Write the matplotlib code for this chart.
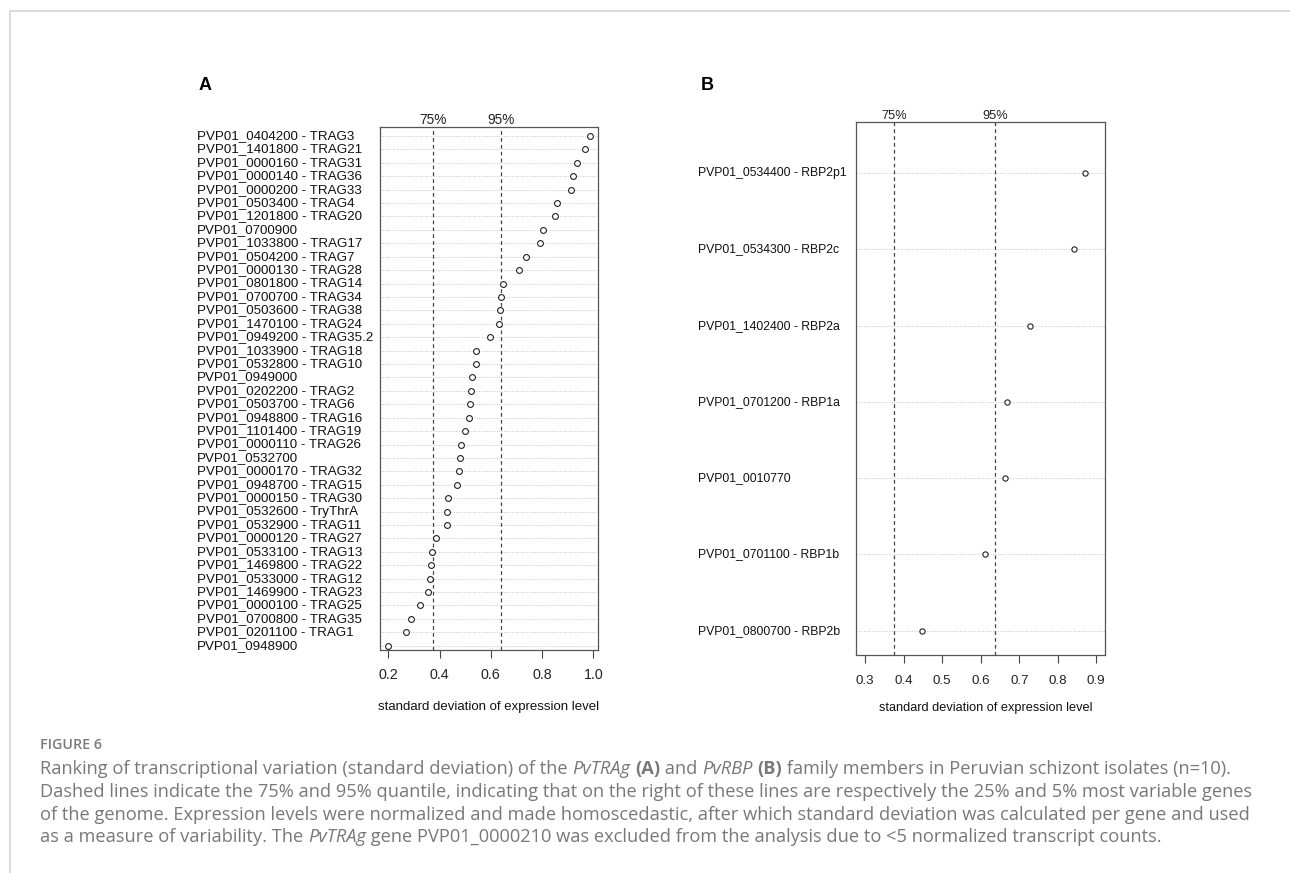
import matplotlib
matplotlib.use("Agg")
import matplotlib.pyplot as plt
from matplotlib import transforms
from matplotlib.lines import Line2D

W, H = 1290, 873

trag_labels = [
    "PVP01_0404200 - TRAG3", "PVP01_1401800 - TRAG21", "PVP01_0000160 - TRAG31",
    "PVP01_0000140 - TRAG36", "PVP01_0000200 - TRAG33", "PVP01_0503400 - TRAG4",
    "PVP01_1201800 - TRAG20", "PVP01_0700900", "PVP01_1033800 - TRAG17",
    "PVP01_0504200 - TRAG7", "PVP01_0000130 - TRAG28", "PVP01_0801800 - TRAG14",
    "PVP01_0700700 - TRAG34", "PVP01_0503600 - TRAG38", "PVP01_1470100 - TRAG24",
    "PVP01_0949200 - TRAG35.2", "PVP01_1033900 - TRAG18", "PVP01_0532800 - TRAG10",
    "PVP01_0949000", "PVP01_0202200 - TRAG2", "PVP01_0503700 - TRAG6",
    "PVP01_0948800 - TRAG16", "PVP01_1101400 - TRAG19", "PVP01_0000110 - TRAG26",
    "PVP01_0532700", "PVP01_0000170 - TRAG32", "PVP01_0948700 - TRAG15",
    "PVP01_0000150 - TRAG30", "PVP01_0532600 - TryThrA", "PVP01_0532900 - TRAG11",
    "PVP01_0000120 - TRAG27", "PVP01_0533100 - TRAG13", "PVP01_1469800 - TRAG22",
    "PVP01_0533000 - TRAG12", "PVP01_1469900 - TRAG23", "PVP01_0000100 - TRAG25",
    "PVP01_0700800 - TRAG35", "PVP01_0201100 - TRAG1", "PVP01_0948900",
]
trag_sd = [
    0.987, 0.969, 0.935, 0.919, 0.912, 0.858, 0.852, 0.802, 0.792, 0.737,
    0.709, 0.649, 0.640, 0.637, 0.632, 0.598, 0.541, 0.542, 0.527, 0.523,
    0.519, 0.516, 0.499, 0.484, 0.481, 0.474, 0.469, 0.433, 0.430, 0.428,
    0.385, 0.372, 0.368, 0.364, 0.355, 0.325, 0.288, 0.269, 0.199,
]
rbp_labels = [
    "PVP01_0534400 - RBP2p1", "PVP01_0534300 - RBP2c", "PVP01_1402400 - RBP2a",
    "PVP01_0701200 - RBP1a", "PVP01_0010770", "PVP01_0701100 - RBP1b",
    "PVP01_0800700 - RBP2b",
]
rbp_sd = [0.870, 0.841, 0.727, 0.667, 0.663, 0.612, 0.448]

trag_ticks = [0.2, 0.4, 0.6, 0.8, 1.0]
rbp_ticks = [0.3, 0.4, 0.5, 0.6, 0.7, 0.8, 0.9]
quantiles = [(0.374, "75%"), (0.638, "95%")]

LAB_FONT = "Liberation Sans"

fig = plt.figure(figsize=(W / 100, H / 100), dpi=100)
fig.patch.set_facecolor("white")


def px_axes(left, top, right, bottom):
    return fig.add_axes([left / W, 1 - bottom / H, (right - left) / W, (bottom - top) / H])


def dotchart(ax, labels, values, xlim, ticks, label_x, fs_lab, fs_tick, fs_q, ms, pad):
    n = len(values)
    y = list(range(n, 0, -1))
    for yi in y:
        ax.axhline(yi, color="#c4c4c4", lw=0.7, ls=(0, (1, 1.6)), zorder=1)
    ax.plot(values, y, ls="none", marker="o", mfc="white", mec="#222222",
            ms=ms, mew=0.8, zorder=3)
    for q, name in quantiles:
        ax.axvline(q, color="#444444", lw=0.9, ls=(0, (3, 2.5)), zorder=2)
        ax.text(q, 1.0, name, transform=ax.get_xaxis_transform(), ha="center",
                va="bottom", fontsize=fs_q, family=LAB_FONT, color="#222222")
    ax.set_xlim(xlim)
    ax.set_ylim(0.68, n + 0.67)
    ax.set_yticks([])
    ax.set_xticks(ticks)
    ax.set_xticklabels([f"{t:.1f}" for t in ticks], family=LAB_FONT,
                       fontsize=fs_tick, color="#222222")
    ax.tick_params(axis="x", length=5.5, width=0.8, color="#444444", pad=pad)
    for s in ax.spines.values():
        s.set_color("#555555")
        s.set_linewidth(0.9)
    tr = transforms.blended_transform_factory(fig.transFigure, ax.transData)
    for yi, lab in zip(y, labels):
        ax.text(label_x / W, yi, lab, transform=tr, ha="left", va="center",
                fontsize=fs_lab, family=LAB_FONT, color="#111111", clip_on=False)


ax_a = px_axes(380, 127, 598, 650)
dotchart(ax_a, trag_labels, trag_sd, (0.1675, 1.018), trag_ticks, 197, 9.6, 10.3, 9.8, 4.2, 7.5)

ax_b = px_axes(856, 122, 1105, 655)
dotchart(ax_b, rbp_labels, rbp_sd, (0.2759, 0.9226), rbp_ticks, 698, 8.8, 9.6, 9.2, 3.8, 9)

fig.text(489 / W, 1 - 707 / H, "standard deviation of expression level", ha="center",
         va="center", fontsize=9.5, family=LAB_FONT, color="#111111")
fig.text(986 / W, 1 - 708 / H, "standard deviation of expression level", ha="center",
         va="center", fontsize=9.2, family=LAB_FONT, color="#111111")

fig.text(205 / W, 1 - 86 / H, "A", ha="center", va="center", fontsize=13,
         weight="bold", family=LAB_FONT)
fig.text(707 / W, 1 - 86 / H, "B", ha="center", va="center", fontsize=13,
         weight="bold", family=LAB_FONT)

# page frame
frame = "#d4d4d4"
fig.add_artist(Line2D([9.5 / W, 1], [1 - 11 / H, 1 - 11 / H], color=frame, lw=1.2,
                      transform=fig.transFigure))
fig.add_artist(Line2D([9.5 / W, 9.5 / W], [0, 1 - 11 / H], color=frame, lw=1.2,
                      transform=fig.transFigure))

# caption
CAP_FONT = "Open Sans"
cap_color = "#787878"
fig.text(40 / W, 1 - 745 / H, "FIGURE 6", ha="left", va="center", fontsize=10.3,
         family=CAP_FONT, weight="semibold", color="#7a7a7a")

caption = [
    [("Ranking of transcriptional variation (standard deviation) of the ", "normal", "normal"),
     ("PvTRAg", "italic", "normal"), (" ", "normal", "normal"), ("(A)", "normal", "bold"),
     (" and ", "normal", "normal"), ("PvRBP", "italic", "normal"), (" ", "normal", "normal"),
     ("(B)", "normal", "bold"),
     (" family members in Peruvian schizont isolates (n=10).", "normal", "normal")],
    [("Dashed lines indicate the 75% and 95% quantile, indicating that on the right of these "
      "lines are respectively the 25% and 5% most variable genes", "normal", "normal")],
    [("of the genome. Expression levels were normalized and made homoscedastic, after which "
      "standard deviation was calculated per gene and used", "normal", "normal")],
    [("as a measure of variability. The ", "normal", "normal"), ("PvTRAg", "italic", "normal"),
     (" gene PVP01_0000210 was excluded from the analysis due to <5 normalized transcript "
      "counts.", "normal", "normal")],
]
cap_y = [769, 792, 815, 837]

renderer = fig.canvas.get_renderer()


def text_width(s, size, style, weight):
    t = fig.text(0, 0, "|" + s + "|", fontsize=size, family=CAP_FONT, style=style, weight=weight)
    w1 = t.get_window_extent(renderer).width
    t.remove()
    t = fig.text(0, 0, "||", fontsize=size, family=CAP_FONT, style=style, weight=weight)
    w0 = t.get_window_extent(renderer).width
    t.remove()
    return w1 - w0


# fit caption size so the first line spans the text block width
w_ref = sum(text_width(s, 10, st, wt) for s, st, wt in caption[0])
cap_size = 10 * 1197 / w_ref

for line, yy in zip(caption, cap_y):
    x = 40.0
    for s, st, wt in line:
        fig.text(x / W, 1 - yy / H, s, ha="left", va="center", fontsize=cap_size,
                 family=CAP_FONT, style=st, weight=wt, color=cap_color)
        x += text_width(s, cap_size, st, wt)

fig.savefig("out.png", dpi=100)
